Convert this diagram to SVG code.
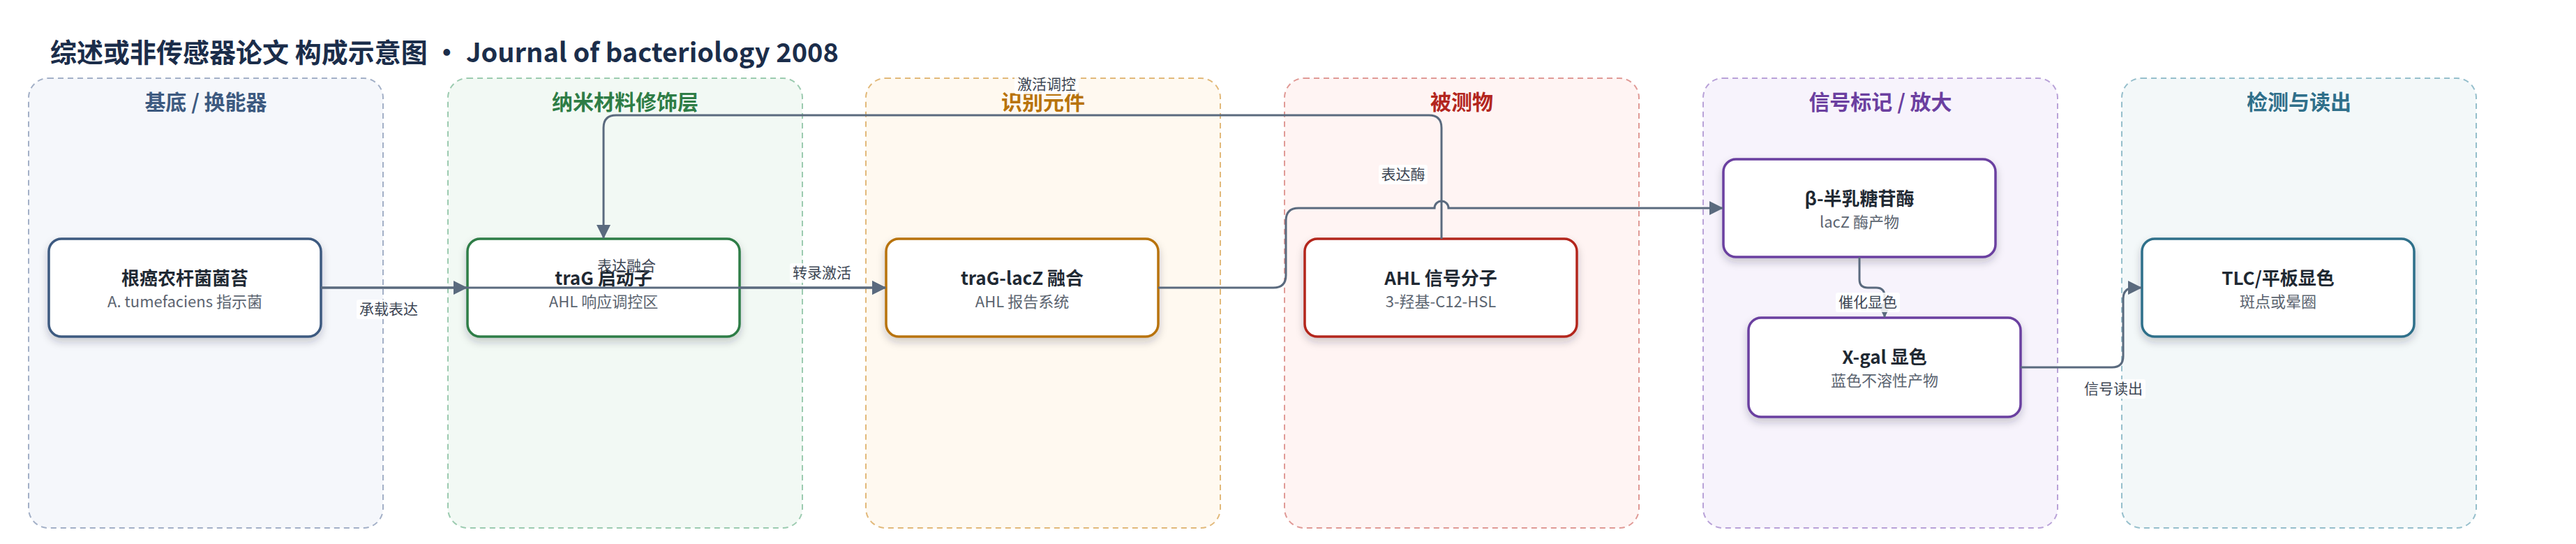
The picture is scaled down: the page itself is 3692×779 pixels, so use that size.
<svg xmlns="http://www.w3.org/2000/svg" width="3692" height="779" viewBox="0 0 3692 779">
<defs>
<filter id="sh" x="-10%" y="-20%" width="120%" height="150%">
<feDropShadow dx="0" dy="6" stdDeviation="6" flood-color="#1f2937" flood-opacity="0.22"/>
</filter>
<marker id="ah" markerUnits="userSpaceOnUse" markerWidth="20" markerHeight="22" refX="19" refY="11" orient="auto">
<path d="M0,1 L20,11 L0,21 z" fill="#5a6a7e"/>
</marker>
</defs>
<style>
text{font-family:"Noto Sans CJK SC","Noto Sans",sans-serif;}
.title{font-size:38px;font-weight:700;fill:#1b2d4a;}
.lane{stroke-width:2;stroke-dasharray:8 6;}
.lh{font-size:30px;font-weight:700;text-anchor:middle;}
.node{fill:#ffffff;stroke-width:3.5;filter:url(#sh);}
.nt{font-size:26px;font-weight:700;fill:#1f2933;text-anchor:middle;}
.ns{font-size:22px;fill:#5b6470;text-anchor:middle;}
.edge{fill:none;stroke:#5a6a7e;stroke-width:3;}
.lbg{fill:#ffffff;fill-opacity:0.85;}
.lt{font-size:21px;fill:#3d4654;text-anchor:middle;}
</style>
<rect width="3692" height="779" fill="#ffffff"/>
<text class="title" x="72" y="89">综述或非传感器论文 构成示意图 • Journal of bacteriology 2008</text>

<g id="lanes">
<g id="lane1"><rect class="lane" x="41" y="112" width="508" height="644" rx="28" fill="#f5f7fb" stroke="#a3b0c7"/><text class="lh" x="295" y="157" fill="#3d5a80">基底 / 换能器</text></g>
<g id="lane2"><rect class="lane" x="642" y="112" width="508" height="644" rx="28" fill="#f2f9f4" stroke="#9ccbb0"/><text class="lh" x="896" y="157" fill="#2e7d46">纳米材料修饰层</text></g>
<g id="lane3"><rect class="lane" x="1241" y="112" width="508" height="644" rx="28" fill="#fff9f0" stroke="#e2b97a"/><text class="lh" x="1495" y="157" fill="#b8730a">识别元件</text></g>
<g id="lane4"><rect class="lane" x="1841" y="112" width="508" height="644" rx="28" fill="#fff4f3" stroke="#e09a96"/><text class="lh" x="2095" y="157" fill="#b3261e">被测物</text></g>
<g id="lane5"><rect class="lane" x="2441" y="112" width="508" height="644" rx="28" fill="#f7f3fc" stroke="#b9a2d8"/><text class="lh" x="2695" y="157" fill="#6b3fa0">信号标记 / 放大</text></g>
<g id="lane6"><rect class="lane" x="3041" y="112" width="508" height="644" rx="28" fill="#f3f8f9" stroke="#96bfcc"/><text class="lh" x="3295" y="157" fill="#2f6f8a">检测与读出</text></g>
</g>

<g id="n1"><rect class="node" x="70" y="342" width="390" height="140" rx="18" stroke="#3d5a80"/><text class="nt" x="265" y="408">根癌农杆菌菌苔</text><text class="ns" x="265" y="440">A. tumefaciens 指示菌</text></g>
<g id="n2"><rect class="node" x="670" y="342" width="390" height="140" rx="18" stroke="#2e7d46"/><text class="nt" x="865" y="408">traG 启动子</text><text class="ns" x="865" y="440">AHL 响应调控区</text></g>
<g id="n3"><rect class="node" x="1270" y="342" width="390" height="140" rx="18" stroke="#b8730a"/><text class="nt" x="1465" y="408">traG-lacZ 融合</text><text class="ns" x="1465" y="440">AHL 报告系统</text></g>
<g id="n4"><rect class="node" x="1870" y="342" width="390" height="140" rx="18" stroke="#b3261e"/><text class="nt" x="2065" y="408">AHL 信号分子</text><text class="ns" x="2065" y="440">3-羟基-C12-HSL</text></g>
<g id="n5"><rect class="node" x="2470" y="228" width="390" height="140" rx="18" stroke="#6b3fa0"/><text class="nt" x="2665" y="294">β-半乳糖苷酶</text><text class="ns" x="2665" y="326">lacZ 酶产物</text></g>
<g id="n6"><rect class="node" x="2506" y="455" width="390" height="142" rx="18" stroke="#6b3fa0"/><text class="nt" x="2701" y="521">X-gal 显色</text><text class="ns" x="2701" y="553">蓝色不溶性产物</text></g>
<g id="n7"><rect class="node" x="3070" y="342" width="390" height="140" rx="18" stroke="#2f6f8a"/><text class="nt" x="3265" y="408">TLC/平板显色</text><text class="ns" x="3265" y="440">斑点或晕圈</text></g>

<g id="connectors">
<path class="edge" d="M460 412 H669" marker-end="url(#ah)"/>
<path class="edge" d="M460 412 H1269" marker-end="url(#ah)"/>
<path class="edge" d="M1060 412 H1269" marker-end="url(#ah)"/>
<path class="edge" d="M2066 342 V183 Q2066 165 2048 165 H883 Q865 165 865 183 V341" marker-end="url(#ah)"/>
<path class="edge" d="M1660 412 H1825 Q1843 412 1843 394 V316 Q1843 298 1861 298 H2056 A10 10 0 0 1 2076 298 H2469" marker-end="url(#ah)"/>
<path class="edge" d="M2665 368 V400 Q2665 412 2677 412 H2689 Q2701 412 2701 424 V454" marker-end="url(#ah)"/>
<path class="edge" d="M2896 526 H3027 Q3043 526 3043 510 V428 Q3043 412 3059 412 H3069" marker-end="url(#ah)"/>
<g id="labels">
<rect class="lbg" x="511" y="429" width="92" height="28" rx="3"/><text class="lt" x="557" y="450">承载表达</text>
<text class="lt" x="898" y="388">表达融合</text>
<rect class="lbg" x="1132" y="377" width="92" height="28" rx="3"/><text class="lt" x="1178" y="398">转录激活</text>
<rect class="lbg" x="1454" y="107" width="92" height="28" rx="3"/><text class="lt" x="1500" y="128">激活调控</text>
<rect class="lbg" x="1976" y="236" width="70" height="28" rx="3"/><text class="lt" x="2011" y="257">表达酶</text>
<rect class="lbg" x="2631" y="419" width="92" height="28" rx="3"/><text class="lt" x="2677" y="440">催化显色</text>
<rect class="lbg" x="2983" y="543" width="92" height="28" rx="3"/><text class="lt" x="3029" y="564">信号读出</text>
</g>
</g>
</svg>
